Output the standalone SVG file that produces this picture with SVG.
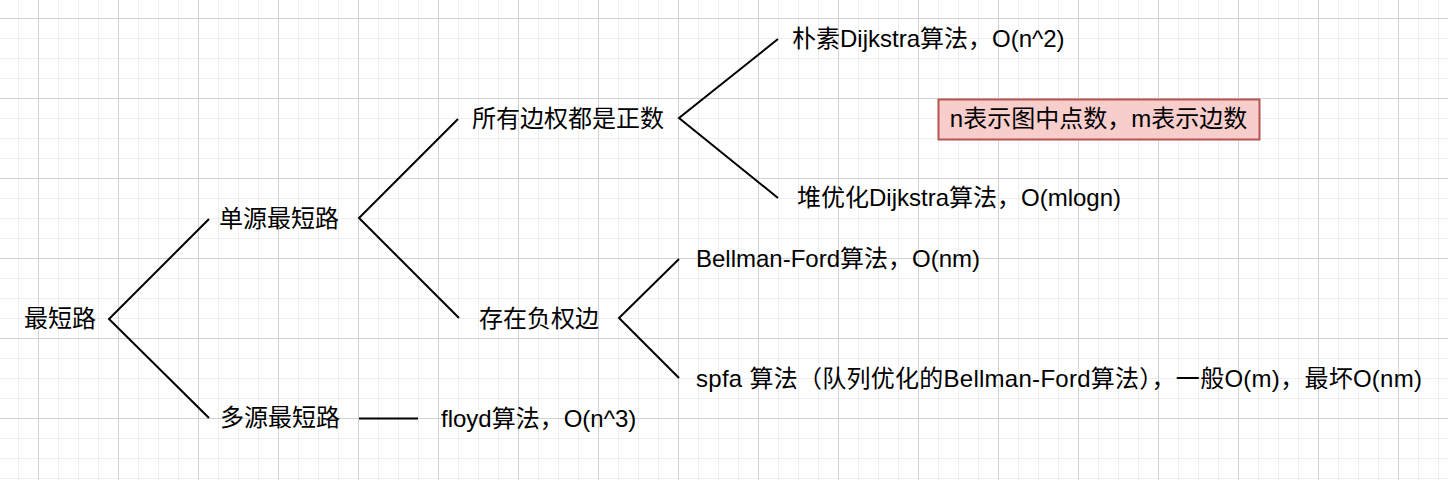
<svg xmlns="http://www.w3.org/2000/svg" width="1448" height="480" viewBox="0 0 1448 480">
  <style>
    .t { font-family: "Liberation Sans", "Noto Sans CJK SC", sans-serif; font-size: 24px; fill: #000000; }
    .ln { fill: none; stroke: #000000; stroke-width: 2; stroke-linejoin: miter; stroke-linecap: butt; }
    .note { fill: #f8cecc; stroke: #b85450; stroke-width: 2; }
  </style>
  <defs>
    <pattern id="grid" patternUnits="userSpaceOnUse" x="38" y="18" width="80" height="80">
      <rect x="20" y="0" width="1" height="80" fill="#eeeeee"/>
      <rect x="40" y="0" width="1" height="80" fill="#eeeeee"/>
      <rect x="60" y="0" width="1" height="80" fill="#eeeeee"/>
      <rect x="0" y="20" width="80" height="1" fill="#eeeeee"/>
      <rect x="0" y="40" width="80" height="1" fill="#eeeeee"/>
      <rect x="0" y="60" width="80" height="1" fill="#eeeeee"/>
      <rect x="0" y="0" width="1" height="80" fill="#d2d2d2"/>
      <rect x="0" y="0" width="80" height="1" fill="#d2d2d2"/>
    </pattern>
  </defs>
  <rect x="0" y="0" width="1448" height="480" fill="#ffffff"/>
  <rect x="0" y="0" width="1448" height="480" fill="url(#grid)"/>

  <g id="connectors">
    <polyline class="ln" points="209,219 109,319 209,418"/>
    <line class="ln" x1="359" y1="418.5" x2="418" y2="418.5"/>
    <polyline class="ln" points="458,119 359,218 459,318"/>
    <polyline class="ln" points="778,39 679,118 778,198"/>
    <polyline class="ln" points="679,259 619,318 679,378"/>
  </g>

  <g id="node-root"><text class="t" x="24" y="327">最短路</text></g>
  <g id="node-single"><text class="t" x="219" y="227">单源最短路</text></g>
  <g id="node-multi"><text class="t" x="220" y="426">多源最短路</text></g>
  <g id="node-positive"><text class="t" x="472" y="127">所有边权都是正数</text></g>
  <g id="node-negative"><text class="t" x="479" y="327">存在负权边</text></g>
  <g id="node-naive"><text class="t" x="792" y="47">朴素Dijkstra算法，O(n^2)</text></g>
  <g id="node-heap"><text class="t" x="797" y="206">堆优化Dijkstra算法，O(mlogn)</text></g>
  <g id="node-bellman"><text class="t" x="696" y="267">Bellman-Ford算法，O(nm)</text></g>
  <g id="node-spfa"><text class="t" x="696" y="387" textLength="726" lengthAdjust="spacing">spfa 算法（队列优化的Bellman-Ford算法），一般O(m)，最坏O(nm)</text></g>
  <g id="node-floyd"><text class="t" x="441" y="427">floyd算法，O(n^3)</text></g>
  <g id="node-note">
    <rect class="note" x="938.5" y="99.5" width="321" height="40"/>
    <text class="t" x="1098.5" y="127" text-anchor="middle">n表示图中点数，m表示边数</text>
  </g>
</svg>
